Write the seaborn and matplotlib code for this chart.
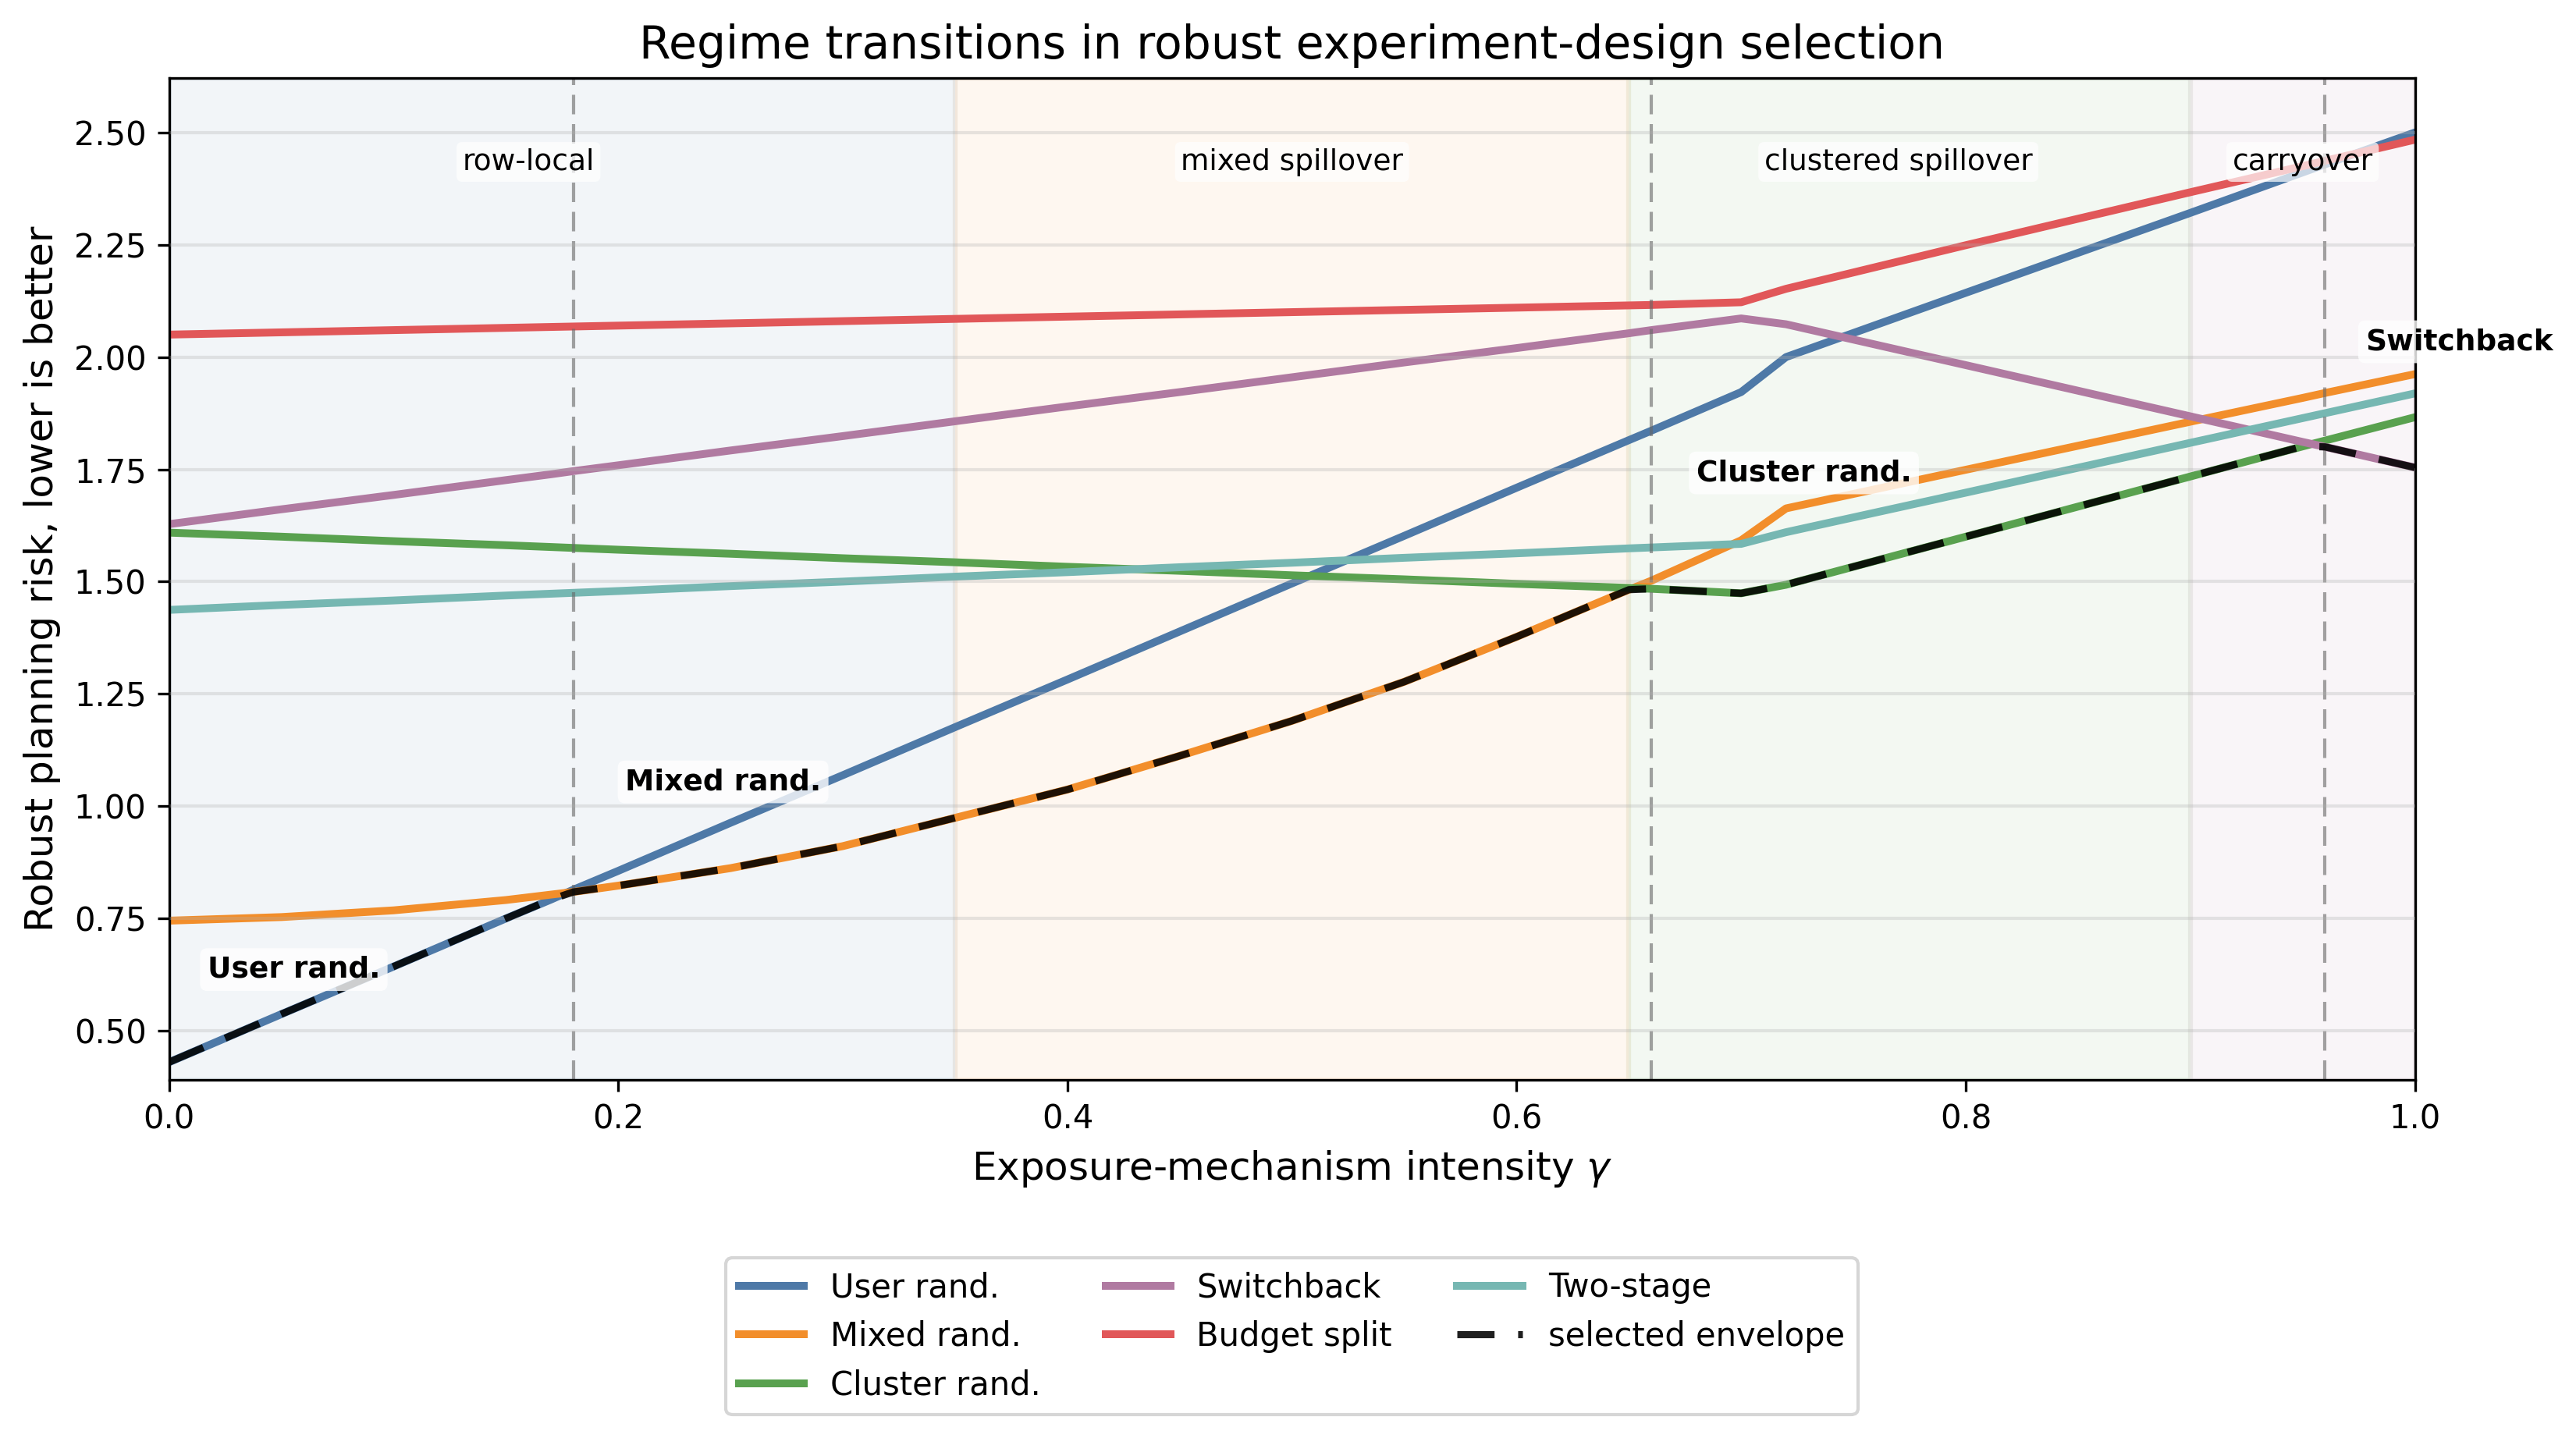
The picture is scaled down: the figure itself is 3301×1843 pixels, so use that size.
import numpy as np
import pandas as pd
import matplotlib
matplotlib.use("Agg")
import matplotlib.pyplot as plt
import seaborn as sns

# ---------------- data ----------------
gamma = [0.00, 0.05, 0.10, 0.15, 0.17, 0.18, 0.20, 0.25, 0.30, 0.35, 0.40, 0.45,
         0.50, 0.55, 0.60, 0.65, 0.66, 0.70, 0.72, 0.80, 0.90, 0.95, 0.96, 1.00]

user_rand = [0.430, 0.537, 0.643, 0.750, 0.792, 0.814, 0.856, 0.963, 1.069, 1.176, 1.282, 1.389,
             1.496, 1.602, 1.709, 1.815, 1.836, 1.922, 2.000, 2.143, 2.321, 2.411, 2.429, 2.500]
mixed_rand = [0.745, 0.753, 0.768, 0.791, 0.803, 0.809, 0.823, 0.862, 0.911, 0.974, 1.037, 1.112,
              1.190, 1.277, 1.377, 1.482, 1.502, 1.592, 1.663, 1.749, 1.856, 1.909, 1.920, 1.962]
cluster_rand = [1.609, 1.600, 1.590, 1.581, 1.577, 1.575, 1.571, 1.562, 1.552, 1.543, 1.533, 1.524,
                1.514, 1.505, 1.495, 1.486, 1.484, 1.474, 1.493, 1.600, 1.734, 1.801, 1.814, 1.866]
switchback = [1.628, 1.661, 1.693, 1.726, 1.739, 1.746, 1.759, 1.792, 1.824, 1.857, 1.890, 1.922,
              1.955, 1.988, 2.020, 2.053, 2.060, 2.086, 2.073, 1.982, 1.868, 1.811, 1.800, 1.754]
budget_split = [2.050, 2.055, 2.060, 2.065, 2.067, 2.068, 2.070, 2.075, 2.080, 2.085, 2.090, 2.095,
                2.100, 2.105, 2.110, 2.115, 2.116, 2.122, 2.152, 2.249, 2.367, 2.425, 2.437, 2.484]
two_stage = [1.437, 1.448, 1.458, 1.469, 1.473, 1.475, 1.479, 1.490, 1.500, 1.511, 1.521, 1.532,
             1.542, 1.553, 1.563, 1.574, 1.576, 1.584, 1.610, 1.698, 1.809, 1.864, 1.875, 1.919]

design_names = ["User rand.", "Mixed rand.", "Cluster rand.", "Switchback", "Budget split", "Two-stage"]
regime_names = ["row-local", "mixed spillover", "clustered spillover", "carryover"]
regime_bounds = [0.0, 0.35, 0.65, 0.90, 1.0]

# ---------------- styling ----------------
plt.rcParams["font.family"] = ["DejaVu Sans"]
colors = ["#4e79a7", "#f28e2b", "#59a14f", "#b07aa1", "#e15759", "#76b7b2"]
regime_colors = [colors[0], colors[1], colors[2], colors[3]]

series = [user_rand, mixed_rand, cluster_rand, switchback, budget_split, two_stage]
df = pd.DataFrame({"gamma": gamma})
for name, vals in zip(design_names, series):
    df[name] = vals

risk = df[design_names].to_numpy()
envelope = risk.min(axis=1)
selected = risk.argmin(axis=1)
switch_idx = [i for i in range(1, len(gamma)) if selected[i] != selected[i - 1]]

fig = plt.figure(figsize=(3301 / 300, 1843 / 300), dpi=300)
ax = fig.add_axes([0.06568, 0.24889, 0.93745 - 0.06568, 0.94596 - 0.24889])

# regime shading
for k in range(len(regime_names)):
    ax.axvspan(regime_bounds[k], regime_bounds[k + 1], facecolor=regime_colors[k],
               edgecolor=regime_colors[k], alpha=0.07, lw=1.5, zorder=0)

ax.grid(axis="y", color="#b0b0b0", alpha=0.3, lw=1.0)
ax.set_axisbelow(False)

for name, col in zip(design_names, colors):
    sns.lineplot(data=df, x="gamma", y=name, color=col, lw=2.4, label=name, ax=ax, zorder=2)

sns.lineplot(x=df["gamma"], y=envelope, color="black", alpha=0.88, lw=2.2,
             linestyle=(0, (5.2, 3.3)), label="selected envelope", ax=ax, zorder=3)

for i in switch_idx:
    ax.axvline(gamma[i], color="0.4", alpha=0.6, lw=1.0, linestyle=(0, (6, 3)), zorder=2.5)

# regime labels
trans = ax.get_xaxis_transform()
regime_label_x = [0.16, 0.50, 0.77, 0.95]
for name, xpos in zip(regime_names, regime_label_x):
    ax.text(xpos, 0.916, name, transform=trans, ha="center", va="center", fontsize=9,
            bbox=dict(boxstyle="round,pad=0.2", facecolor="white", edgecolor="none", alpha=0.7),
            zorder=4)

# selected-design annotations
annot_pos = [(0.017, 0.636), (0.203, 1.054), (0.680, 1.742), (0.978, 2.034)]
seg_starts = [0] + switch_idx
for (xpos, ypos), i in zip(annot_pos, seg_starts):
    ax.text(xpos, ypos, design_names[selected[i]], ha="left", va="center", fontsize=9,
            fontweight="bold",
            bbox=dict(boxstyle="round,pad=0.25", facecolor="white", edgecolor="none", alpha=0.8),
            zorder=5)

ax.set_xlim(0, 1)
ax.set_ylim(0.39, 2.622)
ax.set_xlabel(r"Exposure-mechanism intensity $\gamma$", fontsize=12)
ax.set_ylabel("Robust planning risk, lower is better", fontsize=12)
ax.set_title("Regime transitions in robust experiment-design selection", fontsize=14)
ax.tick_params(labelsize=10)

handles, labels = ax.get_legend_handles_labels()
if ax.get_legend() is not None:
    ax.get_legend().remove()
fig.legend(handles, labels, loc="upper center", bbox_to_anchor=(0.5015, 0.1251), ncol=3,
           fontsize=10, borderaxespad=0, frameon=True)

fig.savefig("out.png", dpi=300)
